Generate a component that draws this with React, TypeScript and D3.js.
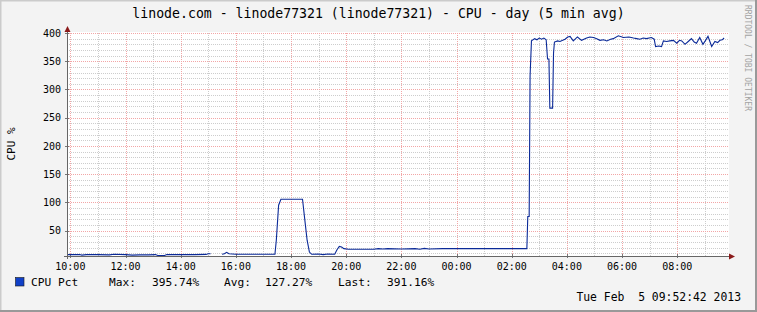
import React from "react";
import * as d3 from "d3";

const TITLE = "linode.com - linode77321 (linode77321) - CPU - day (5 min avg)";
const Y_LABEL = "CPU %";
const WATERMARK = "RRDTOOL / TOBI OETIKER";
const DATE_STAMP = "Tue Feb  5 09:52:42 2013";
const LEGEND_NAME = "CPU Pct";
const LEGEND_PARTS = ["Max:", "395.74%", "Avg:", "127.27%", "Last:", "391.16%"];

const yTicks = [50, 100, 150, 200, 250, 300, 350, 400];

const times: string[] = [
  "09:53", "10:20", "10:25", "10:35", "11:00", "11:25", "11:35", "12:00", "12:15", "12:30",
  "12:50", "13:05", "13:10", "13:25", "13:30", "14:00", "14:30", "14:55", "15:00", "15:05",
  "15:10", "15:25", "15:30", "15:35", "15:40", "15:45", "16:00", "16:30", "17:00", "17:25",
  "17:28", "17:33", "17:38", "18:00", "18:25", "18:30", "18:35", "18:40", "18:45", "19:00",
  "19:10", "19:20", "19:35", "19:40", "19:45", "19:50", "19:55", "20:05", "20:30", "21:00",
  "21:10", "21:20", "21:30", "22:00", "22:30", "22:40", "22:50", "23:00", "23:30", "00:00",
  "00:30", "01:00", "01:30", "02:00", "02:30", "02:33", "02:35", "02:38", "02:40", "02:43",
  "02:50", "02:55", "03:00", "03:05", "03:10", "03:15", "03:18", "03:21", "03:23", "03:29",
  "03:31", "03:33", "03:40", "03:45", "03:56", "04:02", "04:07", "04:14", "04:23", "04:32",
  "04:43", "04:50", "04:58", "05:05", "05:12", "05:20", "05:27", "05:35", "05:41", "05:52",
  "06:03", "06:15", "06:25", "06:32", "06:39", "06:46", "06:53", "07:04", "07:10", "07:13",
  "07:20", "07:26", "07:30", "07:37", "07:44", "07:52", "07:59", "08:05", "08:10", "08:17",
  "08:24", "08:31", "08:37", "08:42", "08:49", "08:56", "09:01", "09:07", "09:15", "09:22",
  "09:28", "09:33", "09:38", "09:42",
];

const cpuPct: (number | null)[] = [
  7.5, 7.5, 6.5, 7.5, 7.5, 7, 8, 7.5, 6.5, 7,
  7, 7.5, 5.8, 5.8, 7.5, 7.5, 7.5, 7.8, 9, 9,
  null, null, 8, 9, 11.5, 9, 8, 8, 8, 8,
  33, 95, 105.5, 105.5, 105.5, 69, 33, 12, 8, 8.5,
  7.5, 8.5, 8, 16, 22, 21, 18, 17, 17, 17,
  18, 17.5, 18, 17.5, 18, 17, 18.5, 17.5, 18, 18,
  18, 18, 18, 18, 18, 18, 75, 75, 324, 386,
  390, 388, 391, 389, 391, 388, 354, 354, 267, 267,
  364, 384, 386, 385, 389, 393, 394, 386, 393, 387,
  391, 393, 392, 390, 387, 388, 386, 389, 390, 395,
  392, 393, 391, 390, 389, 391, 390, 392, 389, 376,
  377, 376, 386, 385, 386, 387, 382, 387, 386, 380,
  385, 390, 384, 382, 392, 380, 386, 394, 376, 385,
  383, 387, 388, 391.16,
];

const W = 757;
const H = 312;
const FONT = "'DejaVu Sans Mono', monospace";

const start = new Date(2013, 1, 4, 9, 52, 42);
const end = new Date(2013, 1, 5, 9, 52, 42);

function parseT(s: string): Date {
  const [h, m] = s.split(":").map(Number);
  const firstDay = h * 60 + m >= 9 * 60 + 52;
  return new Date(2013, 1, firstDay ? 4 : 5, h, m, 0);
}

const data = times.map((t, i) => ({ t: parseT(t), v: cpuPct[i] }));

export default function App() {
  const x = d3.scaleTime().domain([start, end]).range([67, 729]);
  const y = d3.scaleLinear().domain([5, 400]).range([256, 33]);

  const hours = d3.timeHour.range(d3.timeHour.ceil(start), end);
  const majorHours = hours.filter((d) => d.getHours() % 2 === 0);
  const minorHours = hours.filter((d) => d.getHours() % 2 !== 0);
  const minorY = d3.range(10, 400, 10).filter((v) => v % 50 !== 0);
  const fmt = d3.timeFormat("%H:%M");

  const line = d3
    .line<{ t: Date; v: number | null }>()
    .defined((d) => d.v !== null)
    .x((d) => x(d.t))
    .y((d) => y(d.v as number));

  const [x0, x1] = x.range();
  const [yb, yt] = y.range();

  return (
    <svg
      width={W}
      height={H}
      style={{ position: "fixed", left: 0, top: 0, display: "block" }}
      fontFamily={FONT}
    >
      <rect x={0} y={0} width={W} height={H} fill="#f3f3f3" />
      <line x1={0} y1={0.5} x2={W} y2={0.5} stroke="#cbcbcb" strokeWidth={2} />
      <line x1={0.5} y1={0} x2={0.5} y2={H} stroke="#cbcbcb" strokeWidth={2} />
      <line x1={0} y1={H - 1} x2={W} y2={H - 1} stroke="#999" strokeWidth={2} />
      <line x1={W - 1} y1={0} x2={W - 1} y2={H} stroke="#999" strokeWidth={2} />

      <rect x={x0} y={yt - 1} width={x1 - x0} height={yb - yt + 1} fill="#ffffff" />

      {minorY.map((v) => (
        <line key={"my" + v} x1={x0} x2={x1} y1={Math.round(y(v)) + 0.5} y2={Math.round(y(v)) + 0.5}
          stroke="#cdcdcd" strokeDasharray="1,1" />
      ))}
      {minorHours.map((d) => (
        <line key={"mx" + d.getTime()} x1={Math.round(x(d)) + 0.5} x2={Math.round(x(d)) + 0.5} y1={yt} y2={yb}
          stroke="#cdcdcd" strokeDasharray="1,1" />
      ))}
      {yTicks.map((v) => (
        <line key={"Mx" + v} x1={x0} x2={x1} y1={Math.round(y(v)) + 0.5} y2={Math.round(y(v)) + 0.5}
          stroke="#f2a6a6" strokeDasharray="1,1" />
      ))}
      {majorHours.map((d) => (
        <line key={"MX" + d.getTime()} x1={Math.round(x(d)) + 0.5} x2={Math.round(x(d)) + 0.5} y1={yt} y2={yb}
          stroke="#f2a6a6" strokeDasharray="1,1" />
      ))}

      {yTicks.map((v) => (
        <line key={"ty" + v} x1={x0 - 2} x2={x0 + 2} y1={Math.round(y(v)) + 0.5} y2={Math.round(y(v)) + 0.5}
          stroke="#777" />
      ))}
      {majorHours.map((d) => (
        <line key={"tx" + d.getTime()} x1={Math.round(x(d)) + 0.5} x2={Math.round(x(d)) + 0.5} y1={yb - 2} y2={yb + 2}
          stroke="#777" />
      ))}

      <path d={line(data) || ""} fill="none" stroke="#0b2a98" strokeWidth={1.1} />

      <line x1={x0 - 3} x2={x1 + 2} y1={yb + 0.5} y2={yb + 0.5} stroke="#666" />
      <line x1={x0 + 0.5} x2={x0 + 0.5} y1={yb + 3} y2={yt - 3} stroke="#666" />
      <polygon points={`${x0 - 2.5},${yt - 1} ${x0 + 3.5},${yt - 1} ${x0 + 0.5},${yt - 7}`} fill="#8b1a1a" />
      <polygon points={`${x1 + 0},${yb - 2.5} ${x1 + 0},${yb + 3.5} ${x1 + 6},${yb + 0.5}`} fill="#8b1a1a" />

      {yTicks.map((v) => (
        <text key={"yl" + v} x={61} y={y(v)} dy="0.36em" textAnchor="end" fontSize={10} fill="#000">
          {v}
        </text>
      ))}
      {majorHours.map((d) => (
        <text key={"xl" + d.getTime()} x={x(d)} y={270} textAnchor="middle" fontSize={10} fill="#000">
          {fmt(d)}
        </text>
      ))}

      <text x={W / 2} y={18} textAnchor="middle" fontSize={13.2} fill="#000">{TITLE}</text>
      <text transform="translate(15,144) rotate(-90)" textAnchor="middle" fontSize={11} fill="#000">{Y_LABEL}</text>
      <text transform="translate(745,5) rotate(90)" textAnchor="start" fontSize={8} fill="#a3a3a3">{WATERMARK}</text>

      <rect x={15.5} y={277.5} width={8.5} height={8.5} fill="#1040c8" stroke="#1a1a1a" strokeWidth={0.6} />
      <text x={31} y={286} fontSize={11.2} fill="#000">{LEGEND_NAME}</text>
      {LEGEND_PARTS.map((s, i) => (
        <text key={"lg" + i} x={[109, 152, 224, 265, 338, 387][i]} y={286} fontSize={11.2} fill="#000">{s}</text>
      ))}
      <text x={741} y={301} textAnchor="end" fontSize={11.4} fill="#000" style={{ whiteSpace: "pre" }}>{DATE_STAMP}</text>
    </svg>
  );
}
